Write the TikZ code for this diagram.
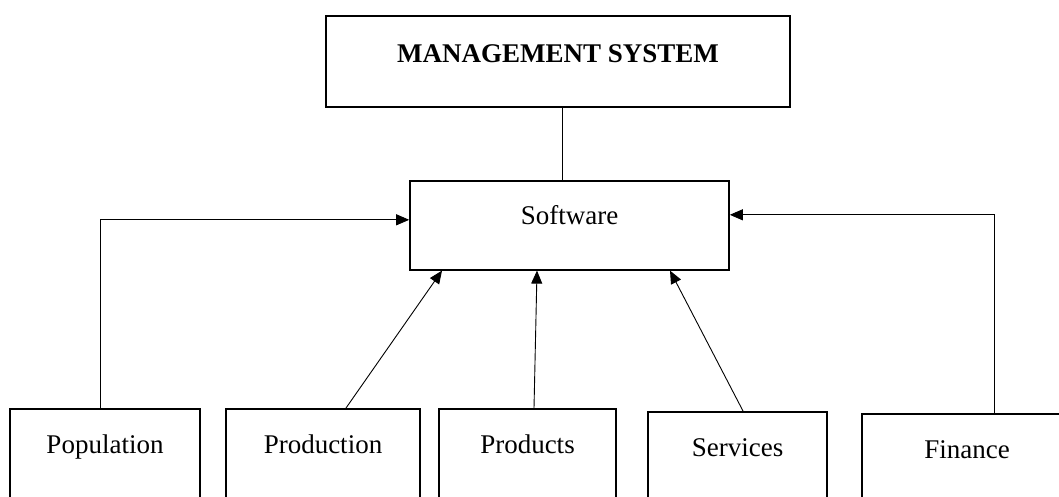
\documentclass[tikz,border=0pt]{standalone}
\usepackage{fontspec}
\setmainfont{Liberation Serif}
\usetikzlibrary{arrows.meta}

\tikzstyle{unit} = [draw, line width=1.6pt, inner xsep=0pt, inner ysep=0pt, font=\fontsize{27}{32}\selectfont, anchor=north, text height=45pt, text depth=100pt]
\tikzstyle{link} = [line width=0.9pt, -{Triangle[length=13pt,width=11pt]}]

\begin{document}
\begin{tikzpicture}[x=1pt,y=-1pt]
  \useasboundingbox (0,0) rectangle (1059,496);
  \clip (0,0) rectangle (1059,496);

  \node (mgmt) at (558,15) [unit, minimum width=464, text height=47pt, text depth=44pt] {\textbf{MANAGEMENT SYSTEM}};
  \node (sw) at (569.5,180) [unit, minimum width=319, text height=44pt, text depth=45pt] {Software};

  \node (pop) at (105,408) [unit, minimum width=190] {Population};
  \node (prodn) at (323,408) [unit, minimum width=194] {Production};
  \node (prods) at (527.5,408) [unit, minimum width=177] {Products};
  \node (serv) at (737.5,411) [unit, minimum width=179] {Services};
  \node (fin) at (967,413) [unit, minimum width=210] {Finance};

  \draw [line width=0.9pt] ([xshift=4pt]mgmt.south) -- ([xshift=-7.5pt]sw.north);
  \draw [link] ([xshift=-5pt]pop.north) |- ([yshift=5.5pt]sw.west);
  \draw [link] ([xshift=23pt]prodn.north) -- ([xshift=-127.5pt]sw.south);
  \draw [link] ([xshift=6.5pt]prods.north) -- ([xshift=-32.5pt]sw.south);
  \draw [link] ([xshift=5.5pt]serv.north) -- ([xshift=100.5pt]sw.south);
  \draw [link] ([xshift=27pt]fin.north) |- ([yshift=10.5pt]sw.east);
\end{tikzpicture}
\end{document}
